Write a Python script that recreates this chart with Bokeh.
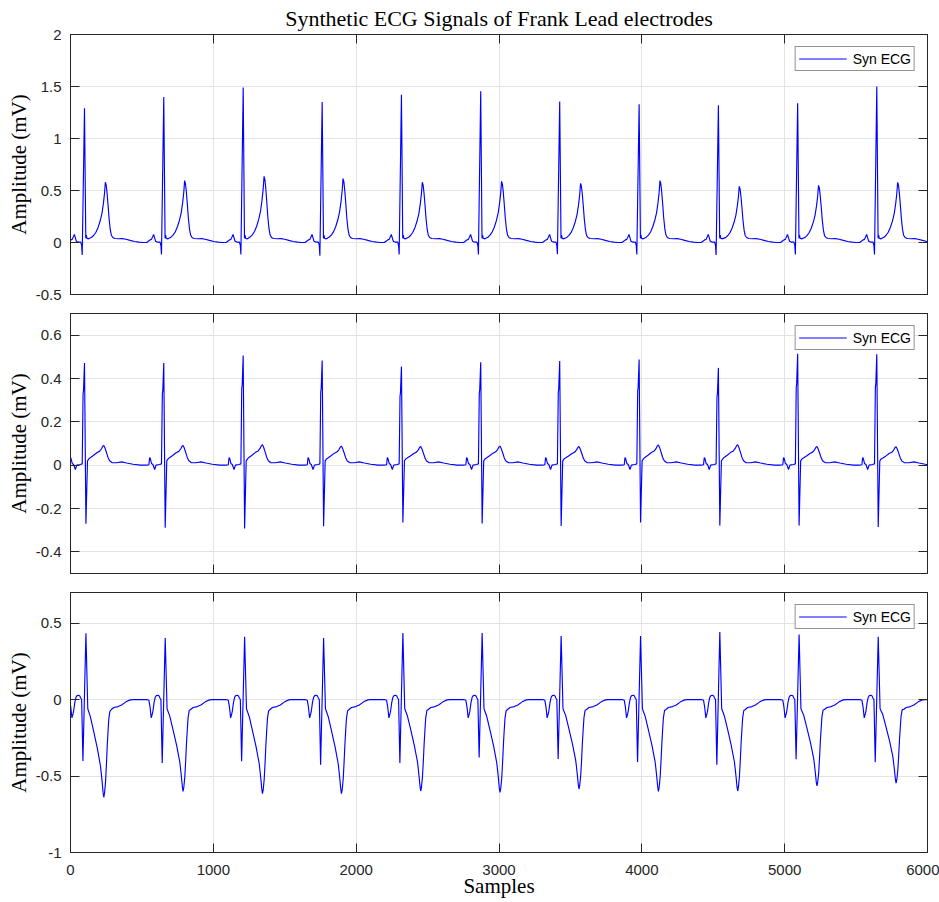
from bokeh.plotting import figure
from bokeh.layouts import column
from bokeh.models import Range1d, LinearAxis, FixedTicker, Legend, LegendItem
from bokeh.embed import file_html
from bokeh.resources import INLINE

# ---------------- data ----------------
# sample index of each heartbeat (R peak of lead 1)
beat_pos = [98, 653, 1209, 1762, 2317, 2872, 3425, 3981, 4536, 5091, 5645]

# lead 1 (top panel): R peak, Q dip, T peak amplitudes (mV) per beat
lead1_r = [1.29, 1.40, 1.49, 1.35, 1.42, 1.455, 1.355, 1.33, 1.32, 1.34, 1.50]
lead1_q = [-0.121, -0.115, -0.115, -0.128, -0.115, -0.115, -0.112, -0.115, -0.121, -0.115, -0.115]
lead1_t = [0.58, 0.595, 0.636, 0.614, 0.58, 0.588, 0.569, 0.595, 0.54, 0.55, 0.579]

# lead 2 (middle panel)
lead2_r = [0.472, 0.471, 0.506, 0.483, 0.455, 0.475, 0.481, 0.488, 0.449, 0.514, 0.512]
lead2_s = [-0.27, -0.289, -0.292, -0.282, -0.265, -0.269, -0.281, -0.265, -0.279, -0.279, -0.285]
lead2_t = [0.091, 0.091, 0.094, 0.088, 0.086, 0.088, 0.086, 0.093, 0.094, 0.086, 0.085]

# lead 3 (bottom panel)
lead3_r = [0.433, 0.402, 0.411, 0.402, 0.435, 0.435, 0.415, 0.415, 0.441, 0.426, 0.411]
lead3_q = [-0.402, -0.415, -0.404, -0.426, -0.415, -0.378, -0.389, -0.409, -0.426, -0.391, -0.409]
lead3_t = [-0.639, -0.6, -0.615, -0.615, -0.598, -0.607, -0.585, -0.6, -0.598, -0.565, -0.546]

# beat outlines: (offset from beat, part, value)
# part 'b' = value in mV, 'r' / 's' / 't' = fraction of that beat's R / Q-S / T amplitude
lead1_shape = [
    (-120, 'b', 0.0), (-106, 'b', 0.015), (-96, 'b', 0.025), (-86, 'b', 0.03),
    (-78, 'b', 0.055), (-71, 'b', 0.078), (-64, 'b', 0.045), (-57, 'b', 0.012),
    (-45, 'b', 0.004), (-26, 'b', 0.003), (-20, 'b', -0.03), (-16, 's', 1.0),
    (0, 'r', 1.0), (9, 'b', 0.04), (13, 'b', 0.072), (17, 'b', 0.04),
    (24, 'b', 0.035), (35, 'b', 0.04), (50, 't', 0.086), (65, 't', 0.12),
    (80, 't', 0.17), (95, 't', 0.25), (110, 't', 0.36), (122, 't', 0.48),
    (132, 't', 0.64), (140, 't', 0.81), (146, 't', 1.0), (152, 't', 0.95),
    (158, 't', 0.82), (165, 't', 0.62), (172, 't', 0.40), (180, 't', 0.22),
    (188, 't', 0.12), (198, 'b', 0.048), (212, 'b', 0.038), (240, 'b', 0.036),
    (265, 'b', 0.037), (290, 'b', 0.031), (320, 'b', 0.02), (350, 'b', 0.01),
    (380, 'b', 0.003), (410, 'b', 0.0), (430, 'b', 0.0),
]
lead2_shape = [
    (-120, 'b', 0.0), (-104, 'b', 0.002), (-99, 'b', 0.035), (-94, 'b', 0.03),
    (-86, 'b', 0.008), (-76, 'b', 0.003), (-64, 'b', -0.02), (-54, 'b', 0.0),
    (-30, 'b', 0.003), (-16, 'b', 0.006), (-10, 'r', 0.70), (-7, 'r', 0.73),
    (0, 'r', 1.0), (10, 's', 1.0), (21, 'b', 0.02), (32, 'b', 0.03),
    (40, 't', 0.38), (62, 't', 0.49), (86, 't', 0.63), (105, 't', 0.70),
    (118, 't', 0.82), (128, 't', 0.96), (135, 't', 1.0), (143, 't', 0.88),
    (154, 't', 0.64), (165, 't', 0.38), (176, 't', 0.22), (192, 'b', 0.012),
    (225, 'b', 0.011), (260, 'b', 0.015), (295, 'b', 0.01), (340, 'b', 0.004),
    (390, 'b', 0.0), (430, 'b', 0.0),
]
lead3_shape = [
    (-120, 'b', 0.0), (-104, 'b', -0.005), (-96, 'b', -0.05), (-88, 'b', -0.12),
    (-82, 'b', -0.10), (-76, 'b', -0.075), (-68, 'b', -0.02), (-60, 'b', 0.015),
    (-52, 'b', 0.026), (-40, 'b', 0.028), (-33, 'b', 0.024), (-27, 'b', 0.01),
    (-20, 'b', 0.0), (-11, 's', 1.0), (10, 'r', 1.0), (23, 'b', -0.06),
    (42, 't', 0.18), (65, 't', 0.33), (90, 't', 0.50), (112, 't', 0.68),
    (118, 't', 0.76), (124, 't', 0.85), (130, 't', 0.95), (135, 't', 1.0),
    (140, 't', 0.96), (147, 't', 0.85), (153, 't', 0.68), (159, 't', 0.48),
    (165, 't', 0.32), (170, 't', 0.2), (178, 't', 0.12), (188, 'b', -0.065),
    (205, 'b', -0.052), (235, 'b', -0.046), (260, 'b', -0.035), (290, 'b', -0.015),
    (320, 'b', -0.002), (340, 'b', 0.0), (430, 'b', 0.0),
]

x_ticks = [0, 1000, 2000, 3000, 4000, 5000, 6000]
x_labels = ["0", "1000", "2000", "3000", "4000", "5000", "6000"]
y1_ticks = [-0.5, 0, 0.5, 1, 1.5, 2]
y1_labels = ["-0.5", "0", "0.5", "1", "1.5", "2"]
y2_ticks = [-0.4, -0.2, 0, 0.2, 0.4, 0.6]
y2_labels = ["-0.4", "-0.2", "0", "0.2", "0.4", "0.6"]
y3_ticks = [-1, -0.5, 0, 0.5]
y3_labels = ["-1", "-0.5", "0", "0.5"]

title_text = "Synthetic ECG Signals of Frank Lead electrodes"
y_label = "Amplitude (mV)"
x_label = "Samples"
legend_label = "Syn ECG"

# ---------------- build ----------------
AX = "#262626"
GRID = "#e3e3e3"
SANS = "Liberation Sans"
SERIF = "Liberation Serif"


def build(shape, r, s, t):
    xs, ys = [], []
    for i, b in enumerate(beat_pos):
        amp = {'b': 1.0, 'r': r[i], 's': s[i], 't': t[i]}
        for off, part, v in shape:
            xs.append(b + off)
            ys.append(v * amp[part])
    return xs, ys


def style_axis(ax, ticks, labels, show_labels):
    ax.ticker = FixedTicker(ticks=ticks)
    ax.axis_line_color = AX
    ax.axis_line_width = 1
    ax.major_tick_line_color = AX
    ax.major_tick_in = 9
    ax.major_tick_out = 0
    ax.minor_tick_line_color = None
    ax.axis_label_text_font = SERIF
    ax.axis_label_text_font_style = "normal"
    ax.axis_label_text_font_size = "21px"
    ax.axis_label_text_color = "black"
    if show_labels:
        ax.major_label_overrides = {tk: lb for tk, lb in zip(ticks, labels)}
        ax.major_label_text_color = AX
        ax.major_label_text_font = SANS
        ax.major_label_text_font_size = "15px"
        ax.major_label_standoff = 7
    else:
        ax.major_label_text_color = None
        ax.major_label_text_alpha = 0
        ax.major_label_text_font_size = "0px"
        ax.major_label_standoff = 0


def make_panel(xs, ys, yr, yticks, ylabels, top, bottom, last):
    p = figure(frame_width=857, frame_height=260,
               x_range=Range1d(0, 6000), y_range=Range1d(*yr),
               output_backend="svg", toolbar_location=None,
               min_border_left=70, min_border_right=12,
               min_border_top=top, min_border_bottom=bottom,
               outline_line_color=AX, background_fill_color="white",
               border_fill_color="white")
    r = p.line(xs, ys, line_color="#0000ff", line_width=1.15)
    style_axis(p.xaxis[0], x_ticks, x_labels, last)
    style_axis(p.yaxis[0], yticks, ylabels, True)
    p.yaxis[0].axis_label = y_label
    p.yaxis[0].major_label_standoff = 9
    p.yaxis[0].axis_label_standoff = 2
    if last:
        p.xaxis[0].axis_label = x_label
        p.xaxis[0].major_label_standoff = 12
        p.xaxis[0].axis_label_standoff = -4
    top_ax = LinearAxis()
    style_axis(top_ax, x_ticks, x_labels, False)
    p.add_layout(top_ax, "above")
    right_ax = LinearAxis()
    style_axis(right_ax, yticks, ylabels, False)
    p.add_layout(right_ax, "right")
    p.xgrid.grid_line_color = GRID
    p.ygrid.grid_line_color = GRID
    legend = Legend(items=[LegendItem(label=legend_label, renderers=[r])],
                    location="top_right", margin=12, padding=3, spacing=0,
                    glyph_width=48, glyph_height=17, label_height=17,
                    label_standoff=6, label_text_font=SANS,
                    label_text_font_size="14px", label_text_color="black",
                    border_line_color=AX, border_line_width=1,
                    background_fill_color="white", background_fill_alpha=1.0)
    p.add_layout(legend)
    return p


x1, v1 = build(lead1_shape, lead1_r, lead1_q, lead1_t)
x2, v2 = build(lead2_shape, lead2_r, lead2_s, lead2_t)
x3, v3 = build(lead3_shape, lead3_r, lead3_q, lead3_t)

p1 = make_panel(x1, v1, (-0.5, 2), y1_ticks, y1_labels, 34, 10, False)
p1.title.text = title_text
p1.title.align = "center"
p1.title.text_font = SERIF
p1.title.text_font_size = "22px"
p1.title.text_font_style = "normal"
p1.title.text_color = "black"
p1.title.standoff = 7
p2 = make_panel(x2, v2, (-0.5, 0.7), y2_ticks, y2_labels, 9, 10, False)
p3 = make_panel(x3, v3, (-1, 0.7), y3_ticks, y3_labels, 9, 48, True)

layout = column(p1, p2, p3, spacing=0)
open("out.html", "w").write(file_html(layout, INLINE))
